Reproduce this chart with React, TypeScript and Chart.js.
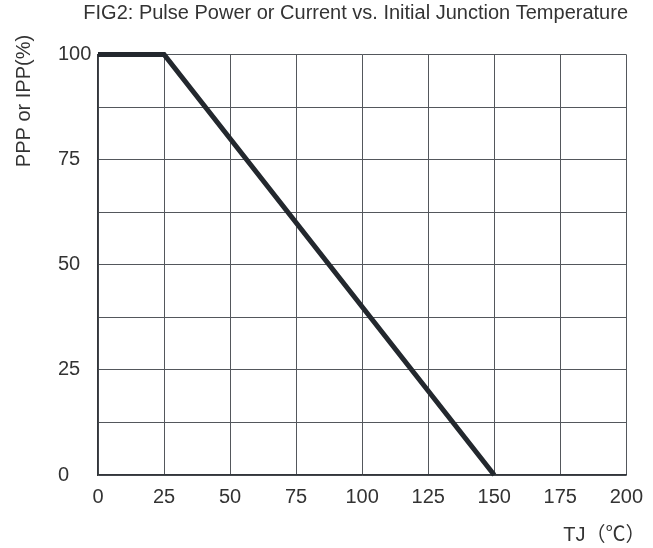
import React, { useEffect, useRef } from "react";
import { Chart, registerables } from "chart.js";

Chart.register(...registerables);

const temperatures = [0, 25, 150];
const percents = [100, 100, 0];
const yLabelValues = [0, 25, 50, 75, 100];
const chartTitle = "FIG2: Pulse Power or Current vs. Initial Junction Temperature";
const yTitle = "PPP or IPP(%)";
const xTitle = "TJ（℃）";

const FONT = "'Liberation Sans', Arial, 'Noto Sans CJK SC', sans-serif";
const TEXT = "#333333";

const axisTitles = {
  id: "axisTitles",
  afterDraw(chart: any) {
    const ctx = chart.ctx;
    const area = chart.chartArea;
    ctx.save();
    ctx.fillStyle = TEXT;
    ctx.font = `20px ${FONT}`;
    // y title, rotated
    ctx.save();
    ctx.translate(area.left - 68, area.top + 46.5);
    ctx.rotate(-Math.PI / 2);
    ctx.textAlign = "center";
    ctx.textBaseline = "alphabetic";
    ctx.fillText(yTitle, 0, 0);
    ctx.restore();
    // x title, lower right
    ctx.textAlign = "left";
    ctx.textBaseline = "alphabetic";
    ctx.fillText(xTitle, area.right - 63, area.bottom + 66);
    ctx.restore();
  },
};

export default function App() {
  const ref = useRef<HTMLCanvasElement | null>(null);
  useEffect(() => {
    if (!ref.current) return;
    const chart = new Chart(ref.current, {
      type: "line",
      data: {
        datasets: [
          {
            data: temperatures.map((t, i) => ({ x: t, y: percents[i] })),
            borderColor: "#23282e",
            borderWidth: 5,
            pointRadius: 0,
            tension: 0,
            clip: false as any,
            borderJoinStyle: "miter",
          },
        ],
      },
      options: {
        responsive: false,
        animation: false,
        layout: { padding: { left: 58, right: 25, top: 0, bottom: 0 } },
        plugins: {
          legend: { display: false },
          tooltip: { enabled: false },
          title: {
            display: true,
            text: chartTitle,
            align: "end",
            color: TEXT,
            font: { size: 20, family: FONT, weight: "normal" as any, lineHeight: 1.2 },
            padding: { top: 1.5, bottom: 29 },
          },
        },
        scales: {
          x: {
            type: "linear",
            min: 0,
            max: 200,
            ticks: {
              stepSize: 25,
              color: TEXT,
              font: { size: 20, family: FONT },
              padding: 10,
              maxRotation: 0,
              autoSkip: false,
            },
            grid: { color: "#53575c", lineWidth: 1, drawTicks: false },
            border: { color: "#33363a", width: 1.5 },
            afterFit: (scale: any) => {
              scale.height = 73;
            },
          },
          y: {
            type: "linear",
            min: 0,
            max: 100,
            ticks: {
              stepSize: 12.5,
              color: TEXT,
              font: { size: 20, family: FONT },
              crossAlign: "far",
              autoSkip: false,
              callback: (v: any) => (yLabelValues.includes(Number(v)) ? String(v) : ""),
            },
            grid: { color: "#53575c", lineWidth: 1, drawTicks: false },
            border: { color: "#33363a", width: 1.5 },
            afterFit: (scale: any) => {
              scale.width = 40;
            },
          },
        },
      },
      plugins: [axisTitles],
    });
    return () => chart.destroy();
  }, []);
  return (
    <canvas
      ref={ref}
      width={653}
      height={548}
      style={{ position: "absolute", left: 0, top: 0, display: "block", background: "#fff" }}
    />
  );
}
